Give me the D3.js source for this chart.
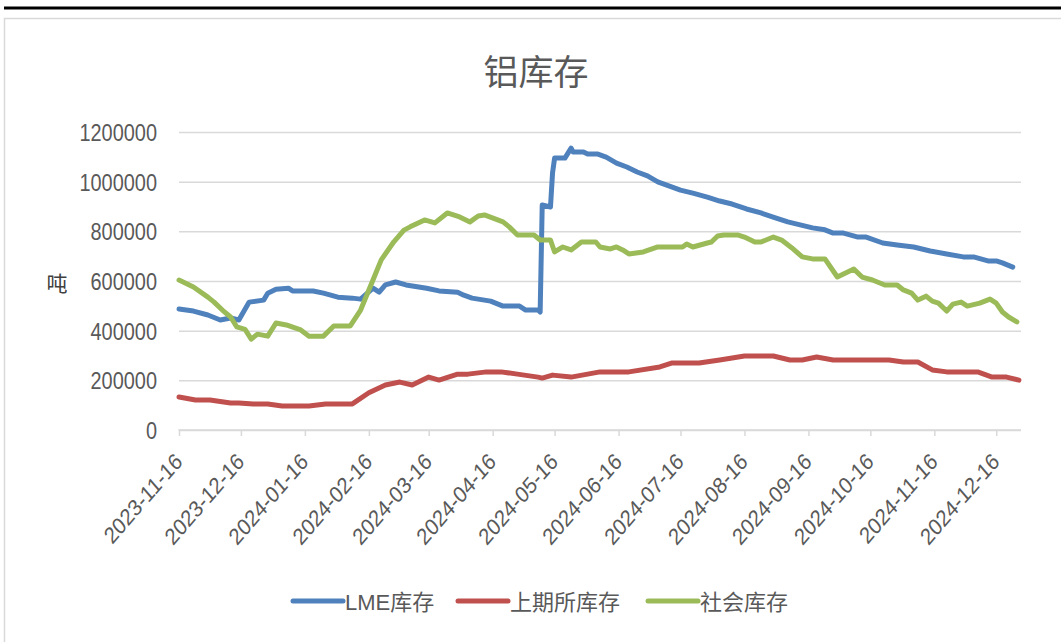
<!DOCTYPE html>
<html>
<head>
<meta charset="utf-8">
<script src="https://cdn.jsdelivr.net/npm/d3@7"></script>
<style>
  html, body { margin: 0; padding: 0; background: #fff; }
  svg { display: block; }
</style>
</head>
<body>
<svg id="chart" width="1061" height="642"></svg>
<script>
// ---------------- DATA ----------------
const chartTitle = "铝库存";
const yAxisTitle = "吨";
const seriesNames = ["LME库存", "上期所库存", "社会库存"];
const seriesColors = ["#4F81BD", "#C0504D", "#9BBB59"];

const xTickLabels = ["2023-11-16","2023-12-16","2024-01-16","2024-02-16","2024-03-16","2024-04-16",
  "2024-05-16","2024-06-16","2024-07-16","2024-08-16","2024-09-16","2024-10-16","2024-11-16","2024-12-16"];
const yTickValues = [0, 200000, 400000, 600000, 800000, 1000000, 1200000];

const lmeDates = ["2023-11-16","2023-11-23","2023-11-30","2023-12-06","2023-12-11","2023-12-15","2023-12-20",
  "2023-12-27","2023-12-29","2024-01-02","2024-01-08","2024-01-10","2024-01-20","2024-01-25","2024-02-01",
  "2024-02-08","2024-02-12","2024-02-18","2024-02-21","2024-02-24","2024-02-29","2024-03-05","2024-03-15",
  "2024-03-21","2024-03-30","2024-04-02","2024-04-06","2024-04-15","2024-04-21","2024-04-29","2024-05-02",
  "2024-05-08","2024-05-09","2024-05-10","2024-05-14","2024-05-15","2024-05-16","2024-05-21","2024-05-24",
  "2024-05-25","2024-05-30","2024-06-01","2024-06-06","2024-06-10","2024-06-15","2024-06-20","2024-06-25",
  "2024-06-30","2024-07-05","2024-07-09","2024-07-16","2024-07-22","2024-07-29","2024-08-04","2024-08-10",
  "2024-08-17","2024-08-24","2024-08-31","2024-09-06","2024-09-12","2024-09-18","2024-09-24","2024-09-28",
  "2024-10-03","2024-10-10","2024-10-14","2024-10-22","2024-10-29","2024-11-06","2024-11-14","2024-11-22",
  "2024-11-30","2024-12-05","2024-12-12","2024-12-16","2024-12-19","2024-12-24"];
const lmeValues = [487000,479000,463000,443000,451000,443000,515000,
  523000,551000,567000,571000,560000,560000,551000,535000,
  531000,527000,571000,555000,584000,596000,584000,571000,
  560000,555000,543000,531000,519000,499000,499000,483000,
  483000,475000,906000,898000,1035000,1095000,1095000,1135000,
  1119000,1119000,1111000,1111000,1099000,1075000,1059000,1039000,
  1023000,999000,987000,966000,954000,938000,922000,910000,
  890000,874000,854000,838000,826000,814000,806000,793000,
  793000,777000,777000,753000,745000,737000,721000,709000,
  697000,697000,681000,681000,673000,656000];

const shfeDates = ["2023-11-16","2023-11-24","2023-12-01","2023-12-11","2023-12-15","2023-12-22","2023-12-29",
  "2024-01-05","2024-01-18","2024-01-26","2024-02-08","2024-02-16","2024-02-24","2024-03-02","2024-03-08",
  "2024-03-16","2024-03-21","2024-03-30","2024-04-04","2024-04-13","2024-04-20","2024-04-28","2024-05-08",
  "2024-05-10","2024-05-15","2024-05-24","2024-06-07","2024-06-21","2024-07-06","2024-07-12","2024-07-25",
  "2024-08-04","2024-08-16","2024-08-30","2024-09-07","2024-09-13","2024-09-20","2024-09-28","2024-10-25",
  "2024-11-01","2024-11-08","2024-11-15","2024-11-22","2024-12-07","2024-12-14","2024-12-21","2024-12-27"];
const shfeValues = [133000,121000,121000,109000,109000,105000,105000,
  97000,97000,105000,105000,150000,181000,193000,181000,
  213000,201000,225000,225000,234000,234000,225000,213000,
  209000,221000,213000,234000,234000,254000,270000,270000,
  282000,298000,298000,282000,282000,294000,282000,282000,
  274000,274000,242000,234000,234000,213000,213000,201000];

const socialDates = ["2023-11-16","2023-11-23","2023-11-30","2023-12-03","2023-12-07","2023-12-11","2023-12-14",
  "2023-12-18","2023-12-21","2023-12-24","2023-12-29","2024-01-02","2024-01-07","2024-01-14","2024-01-18",
  "2024-01-25","2024-01-30","2024-02-07","2024-02-12","2024-02-18","2024-02-22","2024-02-28","2024-03-04",
  "2024-03-07","2024-03-14","2024-03-19","2024-03-25","2024-03-31","2024-04-05","2024-04-09","2024-04-12",
  "2024-04-21","2024-04-24","2024-04-28","2024-05-06","2024-05-09","2024-05-14","2024-05-16","2024-05-20",
  "2024-05-24","2024-05-29","2024-06-05","2024-06-07","2024-06-12","2024-06-15","2024-06-18","2024-06-21",
  "2024-06-28","2024-07-05","2024-07-17","2024-07-19","2024-07-22","2024-07-29","2024-07-31","2024-08-03",
  "2024-08-06","2024-08-13","2024-08-16","2024-08-21","2024-08-24","2024-08-30","2024-09-03","2024-09-08",
  "2024-09-13","2024-09-18","2024-09-24","2024-09-30","2024-10-08","2024-10-12","2024-10-17","2024-10-23",
  "2024-10-29","2024-11-01","2024-11-05","2024-11-08","2024-11-12","2024-11-15","2024-11-18","2024-11-22",
  "2024-11-25","2024-11-29","2024-12-02","2024-12-08","2024-12-13","2024-12-16","2024-12-19","2024-12-22",
  "2024-12-26"];
const socialValues = [604000,576000,535000,515000,483000,455000,415000,
  405000,366000,386000,378000,431000,423000,403000,378000,
  378000,419000,419000,483000,604000,685000,757000,805000,
  818000,846000,834000,874000,858000,838000,862000,866000,
  838000,818000,785000,785000,765000,765000,717000,737000,
  725000,757000,757000,737000,729000,737000,725000,709000,
  717000,737000,737000,749000,737000,753000,757000,781000,
  785000,785000,777000,757000,757000,777000,765000,733000,
  697000,689000,689000,616000,648000,616000,604000,584000,
  584000,564000,551000,523000,539000,519000,511000,479000,
  507000,515000,499000,511000,527000,511000,475000,455000,
  435000];

const seriesDates = [lmeDates, shfeDates, socialDates];
const seriesValues = [lmeValues, shfeValues, socialValues];

// ---------------- LAYOUT ----------------
const W = 1061, H = 642;
const plot = { left: 179, right: 1021, top: 132, bottom: 430 };
const textColor = "#595959";
const gridColor = "#D9D9D9";
const latinFont = '"Liberation Sans", Arial, sans-serif';
const cjkFont = '"Noto Sans CJK SC", "Noto Sans", sans-serif';
const legendStarts = [293, 458, 648];

const parse = d3.timeParse("%Y-%m-%d");
const svg = d3.select("#chart");

// frame
svg.append("rect").attr("x", 0).attr("y", 0).attr("width", W).attr("height", H).attr("fill", "#fff");
svg.append("line").attr("x1", 4).attr("x2", W).attr("y1", 8).attr("y2", 8)
  .attr("stroke", "#000").attr("stroke-width", 3);
svg.append("path").attr("d", `M4.5,${H} L4.5,18.5 L${W},18.5`)
  .attr("fill", "none").attr("stroke", "#D9D9D9").attr("stroke-width", 1.5);

const x = d3.scaleTime()
  .domain([parse("2023-11-16"), parse("2024-12-28")])
  .range([plot.left, plot.right]);
const y = d3.scaleLinear().domain([0, 1200000]).range([plot.bottom, plot.top]);

// gridlines via axis
const yAxis = d3.axisLeft(y).tickValues(yTickValues).tickSize(-(plot.right - plot.left)).tickPadding(22)
  .tickFormat(d3.format("d"));
const gy = svg.append("g").attr("transform", `translate(${plot.left},0)`).call(yAxis);
gy.select(".domain").remove();
gy.selectAll(".tick line").attr("stroke", gridColor).attr("stroke-width", 1.5);
gy.selectAll(".tick text").attr("fill", textColor).attr("font-family", latinFont)
  .attr("font-size", 24).attr("dy", "0.35em").attr("x", 0)
  .attr("transform", `translate(${157 - plot.left},0) scale(0.83,1)`);

// x axis
const xTicks = xTickLabels.map(parse);
const xAxis = d3.axisBottom(x).tickValues(xTicks).tickSize(6).tickFormat(d3.timeFormat("%Y-%m-%d"));
const gx = svg.append("g").attr("transform", `translate(0,${plot.bottom})`).call(xAxis);
gx.select(".domain").attr("stroke", gridColor).attr("stroke-width", 1.5)
  .attr("d", `M${plot.left},0.5V0H${plot.right}`);
gx.selectAll(".tick line").attr("stroke", gridColor).attr("stroke-width", 1.5);
gx.selectAll(".tick text")
  .attr("fill", textColor).attr("font-family", latinFont).attr("font-size", 23)
  .attr("text-anchor", "end").attr("y", 0).attr("dy", 0)
  .attr("transform", "translate(4,33) scale(0.87,1) rotate(-45)");

// lines
const line = d3.line().x(d => x(d.date)).y(d => y(d.value));
seriesNames.forEach((name, i) => {
  const data = seriesDates[i].map((d, j) => ({ date: parse(d), value: seriesValues[i][j] }));
  svg.append("path").datum(data)
    .attr("fill", "none").attr("stroke", seriesColors[i]).attr("stroke-width", 5)
    .attr("stroke-linejoin", "round").attr("stroke-linecap", "round")
    .attr("d", line);
});

// title
svg.append("text").attr("x", 536).attr("y", 69).attr("text-anchor", "middle")
  .attr("dominant-baseline", "central")
  .attr("font-family", cjkFont).attr("font-size", 35).attr("fill", textColor).text(chartTitle);

// y title
svg.append("text").attr("x", 57).attr("y", 282).attr("text-anchor", "middle")
  .attr("dominant-baseline", "central")
  .attr("font-family", cjkFont).attr("font-size", 21).attr("fill", "#404040").text(yAxisTitle);

// legend
const ly = 601;
seriesNames.forEach((name, i) => {
  const lx = legendStarts[i];
  svg.append("line").attr("x1", lx).attr("x2", lx + 50).attr("y1", ly).attr("y2", ly)
    .attr("stroke", seriesColors[i]).attr("stroke-width", 5).attr("stroke-linecap", "round");
  svg.append("text").attr("x", lx + 52).attr("y", ly + 1)
    .attr("dominant-baseline", "central")
    .attr("font-family", latinFont + ", " + cjkFont).attr("font-size", 22)
    .attr("fill", textColor).text(name);
});
</script>
</body>
</html>
